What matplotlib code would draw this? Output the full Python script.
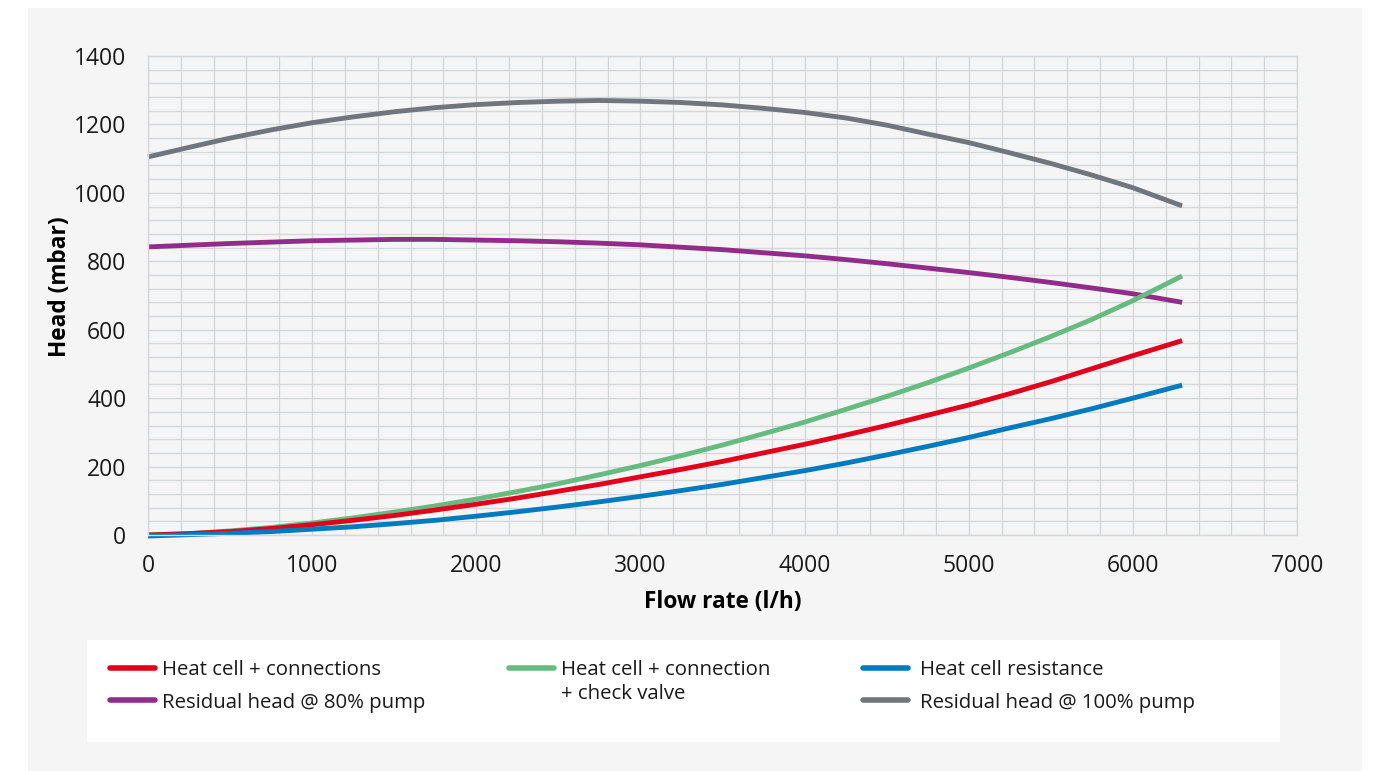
import matplotlib
matplotlib.use('Agg')
import matplotlib.pyplot as plt
from matplotlib.lines import Line2D
from matplotlib.patches import Rectangle
from matplotlib.ticker import MultipleLocator

plt.rcParams['font.family'] = ['Open Sans', 'DejaVu Sans']

# flow rate (l/h)
flow = [0, 250, 500, 750, 1000, 1250, 1500, 1750, 2000, 2250, 2500, 2750, 3000,
        3250, 3500, 3750, 4000, 4250, 4500, 4750, 5000, 5250, 5500, 5750, 6000, 6300]

# head (mbar)
gray_100 = [1105, 1133, 1160, 1184, 1205, 1222, 1237, 1249, 1258, 1264, 1268, 1270, 1268,
            1264, 1257, 1247, 1235, 1219, 1198, 1172, 1147, 1117, 1086, 1052, 1015, 962]
purple_80 = [842, 847, 852, 856, 860, 862, 864, 864, 862, 860, 857, 853, 848,
             841, 834, 825, 816, 805, 793, 780, 767, 753, 738, 722, 705, 680]
green_valve = [0, 4, 12, 22, 35, 50, 67, 85, 105, 127, 150, 176, 203,
               232, 263, 296, 330, 367, 405, 445, 488, 533, 580, 630, 685, 757]
red_conn = [0, 4, 10, 19, 30, 43, 57, 73, 90, 108, 128, 148, 170,
            192, 215, 240, 265, 292, 320, 350, 380, 413, 448, 486, 524, 568]
blue_cell = [-3, 1, 5, 10, 17, 24, 33, 43, 55, 68, 82, 97, 113,
             130, 148, 168, 188, 210, 234, 259, 285, 313, 340, 369, 400, 438]

labels = ['Heat cell + connections', 'Heat cell + connection\n+ check valve',
          'Heat cell resistance', 'Residual head @ 80% pump', 'Residual head @ 100% pump']
colors = ['#e2001a', '#66bb80', '#007bc0', '#912d89', '#71767c']

W, H = 1389, 771
fig = plt.figure(figsize=(W / 100, H / 100), dpi=100)
fig.patch.set_facecolor('white')

# grey panel behind everything
fig.patches.append(Rectangle((28 / W, 0), (1362 - 28) / W, 1 - 8 / H,
                             transform=fig.transFigure, facecolor='#f5f5f5',
                             edgecolor='none', zorder=-2))
# white legend box
fig.patches.append(Rectangle((87 / W, 1 - 742 / H), (1280 - 87) / W, (742 - 640) / H,
                             transform=fig.transFigure, facecolor='white',
                             edgecolor='none', zorder=-1))

ax = fig.add_axes([148 / W, 1 - 535 / H, (1297 - 148) / W, (535 - 56) / H])
ax.set_zorder(2)
ax.set_facecolor('#f5f5f5')

lw = 3.5
ax.plot(flow, gray_100, color=colors[4], lw=lw, solid_capstyle='butt', clip_on=False)
ax.plot(flow, purple_80, color=colors[3], lw=lw, solid_capstyle='butt', clip_on=False)
ax.plot(flow, green_valve, color=colors[1], lw=lw, solid_capstyle='butt', clip_on=False)
ax.plot(flow, red_conn, color=colors[0], lw=lw, solid_capstyle='butt', clip_on=False)
ax.plot(flow, blue_cell, color=colors[2], lw=lw, solid_capstyle='butt', clip_on=False)

ax.set_xlim(0, 7000)
ax.set_ylim(0, 1400)
ax.xaxis.set_major_locator(MultipleLocator(1000))
ax.xaxis.set_minor_locator(MultipleLocator(200))
ax.yaxis.set_major_locator(MultipleLocator(200))
ax.yaxis.set_minor_locator(MultipleLocator(40))
ax.grid(which='both', color='#d5d8db', lw=1.0)
ax.set_axisbelow(True)
for s in ax.spines.values():
    s.set_color('#d5d8db')
    s.set_linewidth(1.0)
ax.tick_params(which='both', length=0, labelsize=16.5, colors='#1a1a1a')
ax.tick_params(axis='x', pad=14)
ax.tick_params(axis='y', pad=15.5)

ax.set_xlabel('Flow rate (l/h)', fontsize=16.3, fontweight='bold', labelpad=8)
ax.set_ylabel('Head (mbar)', fontsize=16.3, fontweight='bold')
ax.yaxis.set_label_coords(-0.066, 0.518)

# legend drawn by hand: (handle x, text x, row y, series)
entries = [(110, 162, 668, 0), (509, 561, 668, 1), (863, 920, 668, 2),
           (110, 162, 700, 3), (863, 920, 700, 4)]
for hx, tx, y0, i in entries:
    fig.add_artist(Line2D([hx / W, (hx + 45) / W], [1 - y0 / H, 1 - y0 / H],
                          color=colors[i], lw=4, solid_capstyle='round', zorder=3))
    base = y0 + 7 + (1 if y0 > 680 else 0)
    for k, line in enumerate(labels[i].split('\n')):
        fig.text(tx / W, 1 - (base + 24 * k) / H, line, fontsize=14.7,
                 va='baseline', ha='left', color='#1a1a1a', zorder=3)

fig.savefig('out.png', dpi=100)
